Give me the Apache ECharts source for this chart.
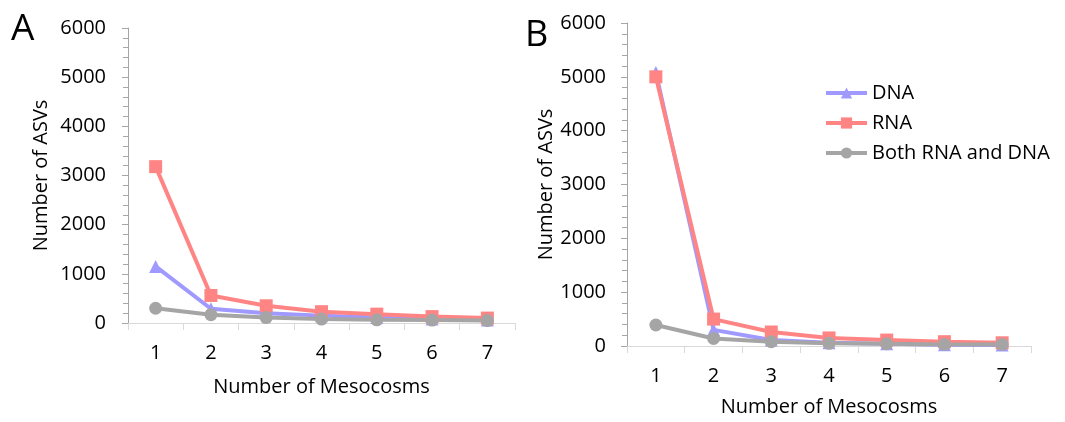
<!DOCTYPE html>
<html lang="en">
<head>
    <meta charset="UTF-8">
    <title>ASVs per mesocosm</title>
    <style>
        body { margin: 0; background: #fff; }
        #main { width: 1065px; height: 422px; }
    </style>
</head>
<body>
<div id="main"></div>

<script src="https://cdn.jsdelivr.net/npm/echarts@6/dist/echarts.min.js"></script>
<script>
    var mesocosms = ['1', '2', '3', '4', '5', '6', '7'];

    // panel A
    var dnaA = [1150, 290, 200, 150, 110, 80, 60];
    var rnaA = [3180, 560, 350, 230, 180, 130, 100];
    var bothA = [300, 170, 110, 80, 65, 60, 50];

    // panel B
    var dnaB = [5080, 300, 110, 60, 40, 25, 20];
    var rnaB = [5000, 500, 260, 150, 110, 80, 60];
    var bothB = [390, 140, 80, 50, 40, 30, 30];

    var font = 'Open Sans';
    var colDNA = '#a099ff';
    var colRNA = '#ff8585';
    var colBoth = '#a5a5a5';

    function yAxis(idx, margin, nameGap) {
        return {
            gridIndex: idx,
            type: 'value',
            min: 0,
            max: 6000,
            interval: 1000,
            name: 'Number of ASVs',
            nameLocation: 'middle',
            nameGap: nameGap,
            nameTextStyle: {fontFamily: font, fontSize: 20, color: '#000'},
            axisLine: {show: true, lineStyle: {color: '#a6a6a6', width: 1}},
            axisTick: {show: true, length: 6, lineStyle: {color: '#a6a6a6'}},
            minorTick: {show: true, splitNumber: 5, length: 5, lineStyle: {color: '#a6a6a6'}},
            splitLine: {show: false},
            axisLabel: {
                fontFamily: font, fontSize: 20, color: '#000', margin: margin,
                formatter: function (v) { return String(v); }
            }
        };
    }

    function xAxis(idx, nameGap) {
        return {
            gridIndex: idx,
            type: 'category',
            data: mesocosms,
            boundaryGap: true,
            name: 'Number of Mesocosms',
            nameLocation: 'middle',
            nameGap: nameGap,
            nameTextStyle: {fontFamily: font, fontSize: 20, color: '#000'},
            axisLine: {show: true, lineStyle: {color: '#d9d9d9', width: 1}},
            axisTick: {show: true, length: 7, lineStyle: {color: '#d9d9d9'}},
            splitLine: {show: false},
            axisLabel: {fontFamily: font, fontSize: 20, color: '#000', margin: 20}
        };
    }

    function line(name, data, idx, symbol, color) {
        return {
            name: name,
            type: 'line',
            xAxisIndex: idx,
            yAxisIndex: idx,
            data: data,
            symbol: symbol,
            symbolSize: 13,
            showSymbol: true,
            itemStyle: {color: color},
            lineStyle: {color: color, width: 4}
        };
    }

    var chartDom = document.getElementById('main');
    var myChart = echarts.init(chartDom);
    var option;

    option = {
        animation: false,
        backgroundColor: '#fff',
        title: [
            {text: 'A', left: 11, top: 11, padding: 0,
                textStyle: {fontFamily: font, fontSize: 37, fontWeight: 'normal', color: '#000'}},
            {text: 'B', left: 525, top: 18, padding: 0,
                textStyle: {fontFamily: font, fontSize: 36, fontWeight: 'normal', color: '#000'}}
        ],
        legend: {
            orient: 'vertical',
            left: 824,
            top: 83,
            padding: 0,
            itemWidth: 41,
            itemHeight: 14,
            itemGap: 10,
            lineStyle: {width: 4},
            textStyle: {fontFamily: font, fontSize: 20, color: '#000', lineHeight: 20},
            data: ['DNA', 'RNA', 'Both RNA and DNA']
        },
        grid: [
            {left: 128, right: 550, top: 28, bottom: 99},
            {left: 627, right: 34, top: 23, bottom: 73}
        ],
        xAxis: [xAxis(0, 54), xAxis(1, 51)],
        yAxis: [yAxis(0, 22, 77), yAxis(1, 21, 66)],
        series: [
            line('DNA', dnaA, 0, 'triangle', colDNA),
            line('RNA', rnaA, 0, 'rect', colRNA),
            line('Both RNA and DNA', bothA, 0, 'circle', colBoth),
            line('DNA', dnaB, 1, 'triangle', colDNA),
            line('RNA', rnaB, 1, 'rect', colRNA),
            line('Both RNA and DNA', bothB, 1, 'circle', colBoth)
        ]
    };

    option && myChart.setOption(option);
</script>
</body>
</html>
